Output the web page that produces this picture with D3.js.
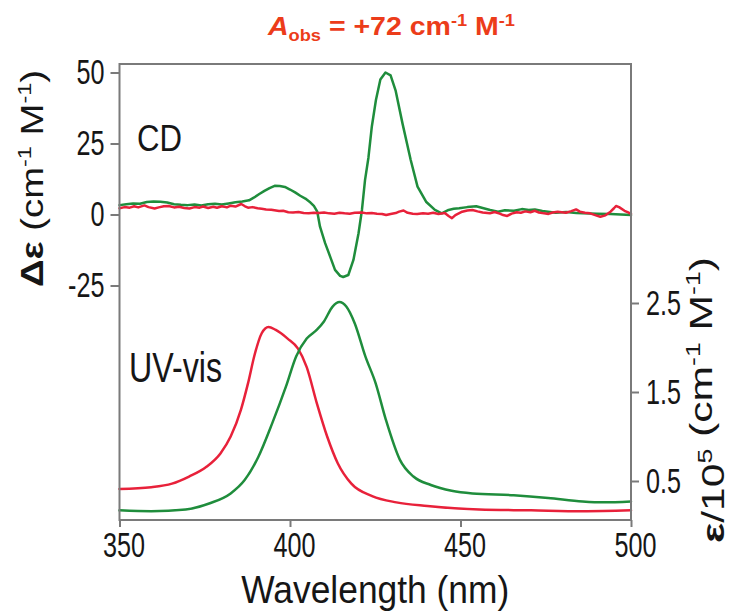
<!DOCTYPE html>
<html>
<head>
<meta charset="utf-8">
<script src="https://cdn.jsdelivr.net/npm/d3@7"></script>
<style>
  body { margin: 0; background: #fff; }
  svg { display: block; }
  text { font-family: "Liberation Sans", Arial, Helvetica, sans-serif; fill: #161616; }
</style>
</head>
<body>
<svg id="chart" width="735" height="613"></svg>
<script>
// ---- Wavelength axis ----
const wlTicks = [350, 400, 450, 500];

// ---- CD spectra (Δε, cm-1 M-1) ----
const cdTicks = [50, 25, 0, -25];
const cdGreenWl = [350, 352, 354, 356, 358, 360, 362, 364, 366, 368, 370, 372, 374, 376, 378, 380, 382, 384, 386, 388,
  389.5, 391, 392.5, 394, 395.5, 397, 398.5, 400, 401.5, 403, 404.5, 406, 407, 408, 408.8, 410.3, 411.8, 413.2, 414.7,
  415.6, 417.1, 418.6, 420.1, 421.1, 422, 423, 424, 425.2, 426.5, 428, 429.5, 431, 433, 435.4, 437.4, 439.9, 442.5,
  444.5, 446.5, 448, 449.6, 452, 454.6, 456.5, 458.7, 461, 463, 465.7, 468, 470, 471.8, 474, 477.9, 481, 484, 486,
  490, 494, 500];
const cdGreenVal = [3.3, 3.6, 3.9, 3.8, 4.4, 4.6, 4.5, 4.2, 3.6, 3.4, 3.3, 3.5, 3.2, 3.6, 3.8, 3.5, 3.9, 4.3, 4.6, 5.0,
  6.0, 7.2, 8.3, 9.3, 10.1, 10.0, 9.7, 8.8, 7.8, 6.6, 5.6, 4.2, 3.0, 1.0, -4.3, -10.1, -14.9, -19.5, -21.6,
  -22.0, -21.3, -16.0, -6.6, 1.6, 12.1, 20.0, 31.0, 40.3, 47.5, 50.0, 49.0, 43.5, 32.0, 19.2, 9.8, 4.5, 1.6,
  0.4, 1.6, 2.0, 2.2, 2.6, 2.9, 2.3, 1.6, 1.0, 1.5, 1.3, 1.9, 1.6, 1.8, 1.2, 0.6, 0.9, 0.5, 0.4,
  0.3, 0.2, -0.2];
const cdRedWl = [350, 351.5, 353, 354.3, 355.5, 357.3, 358.5, 360.3, 361.5, 363, 364.4, 366, 367.5, 369, 370.5, 372,
  373.5, 374.5, 376, 377.5, 378.6, 380, 381.5, 382.6, 384, 385.7, 386.8, 387.7, 389, 390.5, 391.7, 393, 394.5,
  396.8, 398, 399.5, 400.9, 402.5, 404, 405.5, 407, 408.5, 410, 411.5, 413, 414.5, 416, 417.5, 419, 421.1, 422.5,
  424, 425.5, 427, 428.2, 429.5, 431, 432, 433.3, 434.5, 436, 437.3, 439, 440.5, 442, 443.5, 445.4, 446.5, 447.5,
  448.5, 450.5, 452, 453.5, 455, 456.5, 458.6, 460, 461.5, 462.5, 463.7, 465, 466.5, 467.7, 469, 470.5, 471.8,
  473, 474.5, 475.8, 477, 478.5, 480.9, 482.5, 483.9, 485, 486.5, 488, 489.5, 491, 492.5, 494, 495, 495.6, 496.5,
  498.1, 499, 500];
const cdRedVal = [2.2, 2.6, 2.4, 2.9, 2.5, 3.2, 2.6, 2.1, 2.5, 2.9, 3.0, 2.5, 2.7, 2.3, 2.1, 2.6,
  2.4, 2.8, 2.3, 2.7, 2.4, 2.9, 2.5, 3.1, 2.8, 3.7, 2.9, 2.4, 2.6, 2.2, 2.0, 1.8, 1.7,
  1.2, 1.3, 0.8, 0.7, 0.9, 0.5, 0.4, 0.6, 0.5, 0.7, 0.4, 0.3, 0.6, 0.4, 0.3, 0.6, 0.7, 0.4,
  0.5, 0.3, 0.2, -0.2, 0.2, 0.5, 1.0, 1.4, 0.6, 0.3, 0.2, 0.4, 0.3, 0.6, 0.2, 0.5, -0.5, -1.3,
  -0.2, 1.0, 1.4, 1.6, 1.1, 0.7, 0.4, 0.9, 0.3, -0.2, -0.5, 0.3, 0.8, 0.6, 1.1, 0.8, 1.3,
  0.7, 0.4, 0.2, 0.7, 1.0, 0.6, 1.2, 1.8, 1.0, 0.6, 0.4, -0.2, -0.8, -0.3, 1.0, 2.2, 3.0, 2.6,
  1.3, 0.8, 0.2];

// ---- UV-vis spectra (ε / 10^5, cm-1 M-1) ----
const uvTicks = [0.5, 1.5, 2.5];
const uvRedWl = [350, 359.3, 365.4, 370.4, 375.5, 379.6, 382.6, 385.6, 387.7, 389.7, 391.7, 393.7, 395.7, 399.3,
  402.3, 404.9, 407.9, 410.9, 414, 418, 424.1, 431.2, 440.3, 455.5, 470.7, 485.8, 500];
const uvRedEps = [0.41, 0.43, 0.47, 0.55, 0.66, 0.81, 1.00, 1.30, 1.60, 1.93, 2.16, 2.23, 2.20, 2.10, 1.99, 1.78, 1.37,
  1.00, 0.70, 0.47, 0.33, 0.26, 0.22, 0.18, 0.17, 0.16, 0.17];
const uvGreenWl = [350, 359.3, 369.4, 376.5, 382.6, 386.7, 390.7, 394.8, 398.8, 401.8, 404.9, 407.9, 409.9, 412.5,
  414.5, 416.5, 419, 422.1, 425.1, 428.1, 432.2, 436.2, 441.3, 447.4, 453.5, 465.6, 475.7, 485.8, 491.9, 500];
const uvGreenEps = [0.17, 0.16, 0.18, 0.25, 0.36, 0.51, 0.77, 1.15, 1.56, 1.90, 2.10, 2.20, 2.29, 2.46, 2.51, 2.46,
  2.27, 1.90, 1.60, 1.19, 0.74, 0.55, 0.455, 0.39, 0.36, 0.34, 0.31, 0.27, 0.26, 0.27];

const GREEN = "#1f8d3c";
const RED = "#e8213a";
const AXIS = "#7a7a7a";

const svg = d3.select("#chart");
const frame = { left: 119.5, right: 631, top: 64, bottom: 520 };

const x = d3.scaleLinear().domain([350, 500]).range([frame.left, frame.right]);
const yCD = d3.scaleLinear().domain([-25, 50]).range([285.5, 72.5]);
const yUV = d3.scaleLinear().domain([0.5, 2.5]).range([481, 303]);

// squeeze a text run horizontally to a narrower, condensed look
function condense(sel, k) {
  sel.each(function () {
    const w = this.getComputedTextLength();
    d3.select(this).attr("textLength", w * k).attr("lengthAdjust", "spacingAndGlyphs");
  });
}

// ---- spectra ----
const zip = (a, b) => a.map((v, i) => [v, b[i]]);
const lineCD = d3.line().x(d => x(d[0])).y(d => yCD(d[1])).curve(d3.curveLinear);
const lineUV = d3.line().x(d => x(d[0])).y(d => yUV(d[1])).curve(d3.curveMonotoneX);

const plot = svg.append("g");
[[zip(uvRedWl, uvRedEps), RED, lineUV],
 [zip(uvGreenWl, uvGreenEps), GREEN, lineUV],
 [zip(cdGreenWl, cdGreenVal), GREEN, lineCD],
 [zip(cdRedWl, cdRedVal), RED, lineCD]].forEach(([data, color, gen]) => {
  plot.append("path")
    .attr("d", gen(data))
    .attr("fill", "none")
    .attr("stroke", color)
    .attr("stroke-width", 2.5)
    .attr("stroke-linejoin", "round")
    .attr("stroke-linecap", "round");
});

// ---- frame ----
svg.append("rect")
  .attr("x", frame.left).attr("y", frame.top)
  .attr("width", frame.right - frame.left).attr("height", frame.bottom - frame.top)
  .attr("fill", "none").attr("stroke", AXIS).attr("stroke-width", 2);

function styleAxis(g) {
  g.select(".domain").remove();
  g.selectAll(".tick line").attr("stroke", AXIS).attr("stroke-width", 2);
  g.selectAll(".tick text").style("font-size", "35px").attr("fill", "#161616");
}

// bottom axis
const gx = svg.append("g")
  .attr("transform", `translate(0,${frame.bottom})`)
  .call(d3.axisBottom(x).tickValues(wlTicks).tickSize(7).tickPadding(4).tickFormat(d => String(d)));
styleAxis(gx);
gx.selectAll(".tick text").attr("dx", 4).attr("dy", "0.74em");

// left axis (CD)
const gl = svg.append("g")
  .attr("transform", `translate(${frame.left},0)`)
  .call(d3.axisLeft(yCD).tickValues(cdTicks).tickSize(9).tickPadding(6).tickFormat(d => String(d)));
styleAxis(gl);

// right axis (UV-vis)
const gr = svg.append("g")
  .attr("transform", `translate(${frame.right},0)`)
  .call(d3.axisRight(yUV).tickValues(uvTicks).tickSize(8).tickPadding(7).tickFormat(d3.format(".1f")));
styleAxis(gr);

[gx, gl, gr].forEach(g => condense(g.selectAll(".tick text"), 0.72));

// ---- panel labels ----
svg.append("text").attr("x", 137).attr("y", 151).style("font-size", "37px")
  .attr("textLength", 45).attr("lengthAdjust", "spacingAndGlyphs").text("CD");
svg.append("text").attr("x", 129).attr("y", 382).style("font-size", "42px")
  .attr("textLength", 93).attr("lengthAdjust", "spacingAndGlyphs").text("UV-vis");

// ---- axis titles ----
svg.append("text")
  .attr("x", x(425)).attr("y", 603)
  .attr("text-anchor", "middle")
  .style("font-size", "38px")
  .attr("textLength", 268).attr("lengthAdjust", "spacingAndGlyphs")
  .text("Wavelength (nm)");

function unitRuns(t, size, supSize) {
  t.append("tspan").text(" (cm");
  t.append("tspan").attr("dy", -size * 0.38).style("font-size", supSize + "px").text("-1");
  t.append("tspan").attr("dy", size * 0.38).text(" M");
  t.append("tspan").attr("dy", -size * 0.38).style("font-size", supSize + "px").text("-1");
  t.append("tspan").attr("dy", size * 0.38).text(")");
}

const lt = svg.append("text")
  .attr("transform", "translate(43,178.5) rotate(-90)")
  .attr("text-anchor", "middle")
  .style("font-size", "31px")
  .attr("textLength", 217).attr("lengthAdjust", "spacingAndGlyphs");
lt.append("tspan").style("font-weight", "bold").text("Δε");
unitRuns(lt, 31, 19);

const rt = svg.append("text")
  .attr("transform", "translate(724,400) rotate(-90)")
  .attr("text-anchor", "middle")
  .style("font-size", "32px")
  .attr("textLength", 286).attr("lengthAdjust", "spacingAndGlyphs");
rt.append("tspan").style("font-weight", "bold").text("ε");
rt.append("tspan").text("/10");
rt.append("tspan").attr("dy", -12).style("font-size", "20px").text("5");
rt.append("tspan").attr("dy", 12).text("");
unitRuns(rt, 32, 20);

// ---- amplitude header ----
const TITLE = "#ec3c1a";
const tt = svg.append("text")
  .attr("x", 268).attr("y", 35)
  .style("font-size", "25px").style("font-weight", "bold")
  .attr("textLength", 247).attr("lengthAdjust", "spacingAndGlyphs");
tt.append("tspan").style("font-style", "italic").attr("fill", TITLE).text("A");
tt.append("tspan").attr("dy", 6).style("font-size", "16px").attr("fill", TITLE).text("obs");
tt.append("tspan").attr("dy", -6).attr("fill", TITLE).text(" = +72 cm");
tt.append("tspan").attr("dy", -9).style("font-size", "16px").attr("fill", TITLE).text("-1");
tt.append("tspan").attr("dy", 9).attr("fill", TITLE).text(" M");
tt.append("tspan").attr("dy", -9).style("font-size", "16px").attr("fill", TITLE).text("-1");
</script>
</body>
</html>
